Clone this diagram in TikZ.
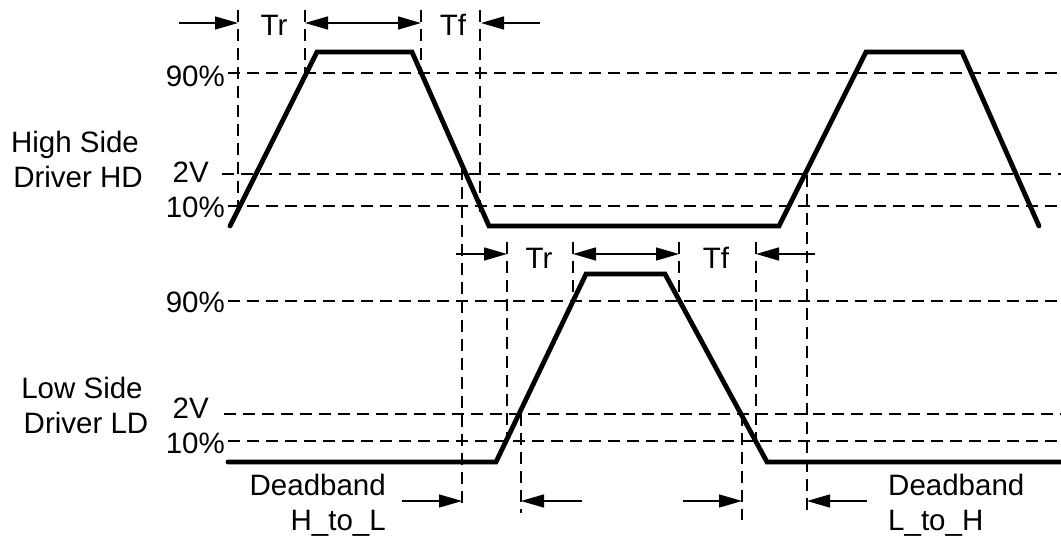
\documentclass[tikz,border=0pt]{standalone}
\usepackage{fontspec}
\setmainfont{Liberation Sans}
\usetikzlibrary{arrows.meta}

\begin{document}
\begin{tikzpicture}[x=1pt, y=-1pt,
        wave/.style={line width=4.8pt, line join=miter, line cap=round},
        guide/.style={line width=1.3pt, dash pattern=on 12pt off 7pt},
        span/.style={line width=1.4pt, -{Triangle[length=23pt,width=13pt]}},
        lbl/.style={inner sep=0pt, font=\fontsize{29.5}{33}\selectfont}]
            \useasboundingbox (0,0) rectangle (1061,536);

            % high side driver
            \coordinate (H1) at (230,226);
            \coordinate (H2) at (317,52);
            \coordinate (H3) at (412,52);
            \coordinate (H4) at (489,226);
            \coordinate (H5) at (779,226);
            \coordinate (H6) at (866,52);
            \coordinate (H7) at (962,52);
            \coordinate (H8) at (1039,226);

            % low side driver
            \coordinate (L1) at (228,462);
            \coordinate (L2) at (496,462);
            \coordinate (L3) at (586,274);
            \coordinate (L4) at (665,274);
            \coordinate (L5) at (767,462);
            \coordinate (L6) at (1061,462);

            % levels
            \draw [guide] (228,73) -- (1061,73);
            \draw [guide] (222,174) -- (1061,174);
            \draw [guide] (228,206) -- (1061,206);
            \draw [guide] (228,301) -- (1061,301);
            \draw [guide] (224,414) -- (1061,414);
            \draw [guide] (228,441) -- (1061,441);

            % time marks
            \draw [guide] (238,10) -- (238,207);
            \draw [guide] (305,10) -- (305,75);
            \draw [guide] (421,10) -- (421,75);
            \draw [guide] (480,10) -- (480,218);
            \draw [guide] (462,168) -- (462,507);
            \draw [guide] (807,175) -- (807,510);
            \draw [guide] (507,242) -- (507,442);
            \draw [guide] (573,242) -- (573,302);
            \draw [guide] (679,242) -- (679,302);
            \draw [guide] (756,242) -- (756,442);
            \draw [guide] (521,414) -- (521,513);
            \draw [guide] (742,414) -- (742,520);

            \draw [wave] (H1) -- (H2) -- (H3) -- (H4) -- (H5) -- (H6) -- (H7) -- (H8);
            \draw [wave] (L1) -- (L2) -- (L3) -- (L4) -- (L5) -- (L6);

            % arrows
            \coordinate (tA) at (179,23);
            \coordinate (tB) at (238,23);
            \coordinate (tC) at (305,23);
            \coordinate (tD) at (421,23);
            \coordinate (tE) at (481,23);
            \coordinate (tF) at (540,23);
            \coordinate (bA) at (456,254);
            \coordinate (bB) at (507,254);
            \coordinate (bC) at (573,254);
            \coordinate (bD) at (679,254);
            \coordinate (bE) at (756,254);
            \coordinate (bF) at (815,254);
            \coordinate (dA) at (402,501);
            \coordinate (dB) at (462,501);
            \coordinate (dC) at (521,501);
            \coordinate (dD) at (582,501);
            \coordinate (dE) at (683,501);
            \coordinate (dF) at (742,501);
            \coordinate (dG) at (807,501);
            \coordinate (dH) at (867,501);

            \draw [span] (tA) -- (tB);
            \draw [span, {Triangle[length=23pt,width=13pt]}-{Triangle[length=23pt,width=13pt]}] (tC) -- (tD);
            \draw [span] (tF) -- (tE);
            \draw [span] (bA) -- (bB);
            \draw [span, {Triangle[length=23pt,width=13pt]}-{Triangle[length=23pt,width=13pt]}] (bC) -- (bD);
            \draw [span] (bF) -- (bE);
            \draw [span] (dA) -- (dB);
            \draw [span] (dD) -- (dC);
            \draw [span] (dE) -- (dF);
            \draw [span] (dH) -- (dG);

            % labels
            \node [lbl, anchor=base] (hdA) at (75,152) {High Side};
            \node [lbl, anchor=base] (hdB) at (78,187) {Driver HD};
            \node [lbl, anchor=base east] (hNine) at (225,86) {90\%};
            \node [lbl, anchor=base east] (hTwo) at (209,182) {2V};
            \node [lbl, anchor=base east] (hTen) at (225,217) {10\%};
            \node [lbl, anchor=base] (ldA) at (82,398) {Low Side};
            \node [lbl, anchor=base] (ldB) at (86,433) {Driver LD};
            \node [lbl, anchor=base east] (lNine) at (225,312) {90\%};
            \node [lbl, anchor=base east] (lTwo) at (209,418) {2V};
            \node [lbl, anchor=base east] (lTen) at (225,453) {10\%};
            \node [lbl, anchor=base] (trH) at (274,35) {Tr};
            \node [lbl, anchor=base] (tfH) at (453,35) {Tf};
            \node [lbl, anchor=base] (trL) at (539,268) {Tr};
            \node [lbl, anchor=base] (tfL) at (716,268) {Tf};
            \node [lbl, anchor=base east] (dbA) at (386,495) {Deadband};
            \node [lbl, anchor=base east] (dbB) at (386,530) {H\_to\_L};
            \node [lbl, anchor=base west] (dbC) at (888,495) {Deadband};
            \node [lbl, anchor=base west] (dbD) at (888,530) {L\_to\_H};
        \end{tikzpicture}
\end{document}
